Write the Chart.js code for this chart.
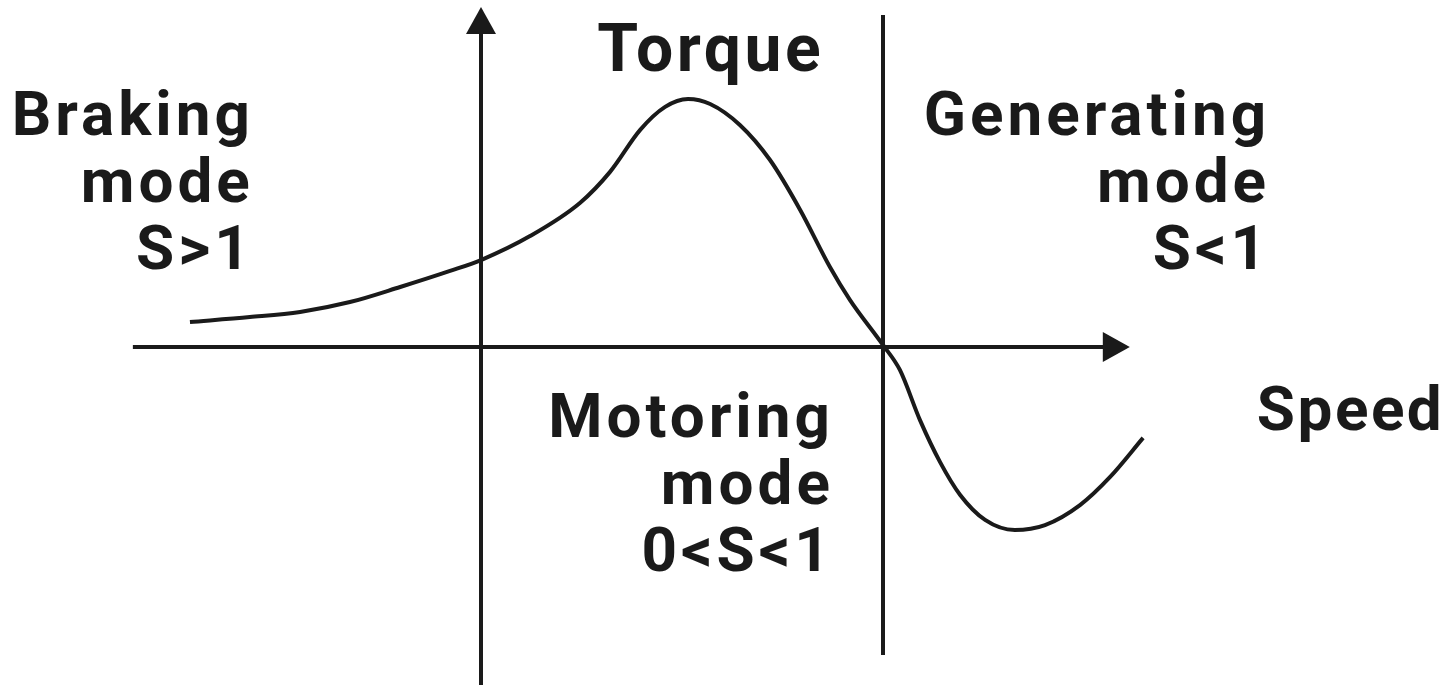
<!DOCTYPE html>
<html>
<head>
<meta charset="utf-8">
<script src="https://cdn.jsdelivr.net/npm/chart.js@4.4.0/dist/chart.umd.min.js"></script>
<style>
  html, body { margin: 0; padding: 0; background: #ffffff; }
  #wrap { width: 1451px; height: 689px; }
</style>
</head>
<body>
<div id="wrap"><canvas id="chart" width="1451" height="689"></canvas></div>
<script>
// speed (per unit, 0 = standstill, 1 = synchronous) vs torque (per unit of peak)
const speed = [-0.724, -0.575, -0.450, -0.326, -0.201, -0.077, 0, 0.122, 0.246, 0.321, 0.396, 0.458,
  0.515, 0.570, 0.644, 0.719, 0.794, 0.868, 0.918, 1.0, 1.042, 1.092, 1.142, 1.192, 1.254, 1.328,
  1.403, 1.490, 1.565, 1.647];
const torque = [0.101, 0.121, 0.142, 0.182, 0.243, 0.308, 0.352, 0.449, 0.583, 0.709, 0.879, 0.972,
  1.004, 0.984, 0.899, 0.757, 0.555, 0.324, 0.190, 0.008, -0.093, -0.296, -0.466, -0.599, -0.700,
  -0.741, -0.721, -0.640, -0.526, -0.368];

const regionLabels = [
  { lines: ['Braking', 'mode', 'S>1'], x: -0.575, y: 0.858, align: 'right', size: 62, gap: 4 },
  { lines: ['Generating', 'mode', 'S<1'], x: 1.953, y: 0.858, align: 'right', size: 62, gap: 4 },
  { lines: ['Motoring', 'mode', '0<S<1'], x: 0.868, y: -0.364, align: 'right', size: 62, gap: 4 },
  { lines: ['Torque'], x: 0.289, y: 1.117, align: 'left', size: 66, gap: 3.5 },
  { lines: ['Speed'], x: 1.930, y: -0.336, align: 'left', size: 62, gap: 2.5 }
];

const ink = '#1a1a1a';

const data = speed.map((s, i) => ({ x: s, y: torque[i] }));

const axesPlugin = {
  id: 'axesPlugin',
  afterDraw(chart) {
    const { ctx, scales: { x, y } } = chart;
    const px = v => x.getPixelForValue(v);
    const py = v => y.getPixelForValue(v);
    ctx.save();
    ctx.strokeStyle = ink;
    ctx.fillStyle = ink;
    ctx.lineWidth = 4;

    // speed axis
    const x0 = px(-0.866), x1 = px(1.614), yz = py(0);
    ctx.beginPath();
    ctx.moveTo(x0, yz);
    ctx.lineTo(x1 - 20, yz);
    ctx.stroke();
    ctx.beginPath();
    ctx.moveTo(x1, yz);
    ctx.lineTo(x1 - 27, yz - 15);
    ctx.lineTo(x1 - 27, yz + 15);
    ctx.closePath();
    ctx.fill();

    // torque axis
    const xz = px(0), yb = py(-1.368), yt = py(1.377);
    ctx.beginPath();
    ctx.moveTo(xz, yb);
    ctx.lineTo(xz, yt + 20);
    ctx.stroke();
    ctx.beginPath();
    ctx.moveTo(xz, yt);
    ctx.lineTo(xz - 15, yt + 27);
    ctx.lineTo(xz + 15, yt + 27);
    ctx.closePath();
    ctx.fill();

    // synchronous speed line
    const xs = px(1);
    ctx.beginPath();
    ctx.moveTo(xs, py(1.344));
    ctx.lineTo(xs, py(-1.247));
    ctx.stroke();

    // labels
    ctx.textBaseline = 'alphabetic';
    regionLabels.forEach(lab => {
      ctx.letterSpacing = lab.gap + 'px';
      ctx.font = `bold ${lab.size}px Roboto, "Liberation Sans", sans-serif`;
      ctx.textAlign = lab.align;
      lab.lines.forEach((t, i) => {
        const off = lab.align === 'right' ? lab.gap : 0;
        ctx.fillText(t, px(lab.x) + off, py(lab.y) + i * 67);
      });
    });
    ctx.restore();
  }
};

new Chart(document.getElementById('chart'), {
  type: 'line',
  data: {
    datasets: [{
      data: data,
      borderColor: ink,
      borderWidth: 4,
      pointRadius: 0,
      fill: false,
      cubicInterpolationMode: 'monotone'
    }]
  },
  options: {
    responsive: false,
    animation: false,
    devicePixelRatio: 1,
    layout: { padding: 0 },
    plugins: { legend: { display: false }, tooltip: { enabled: false } },
    scales: {
      x: { type: 'linear', display: false, min: -1.19652, max: 2.41294 },
      y: { type: 'linear', display: false, min: -1.38462, max: 1.40486 }
    }
  },
  plugins: [axesPlugin]
});
</script>
</body>
</html>
